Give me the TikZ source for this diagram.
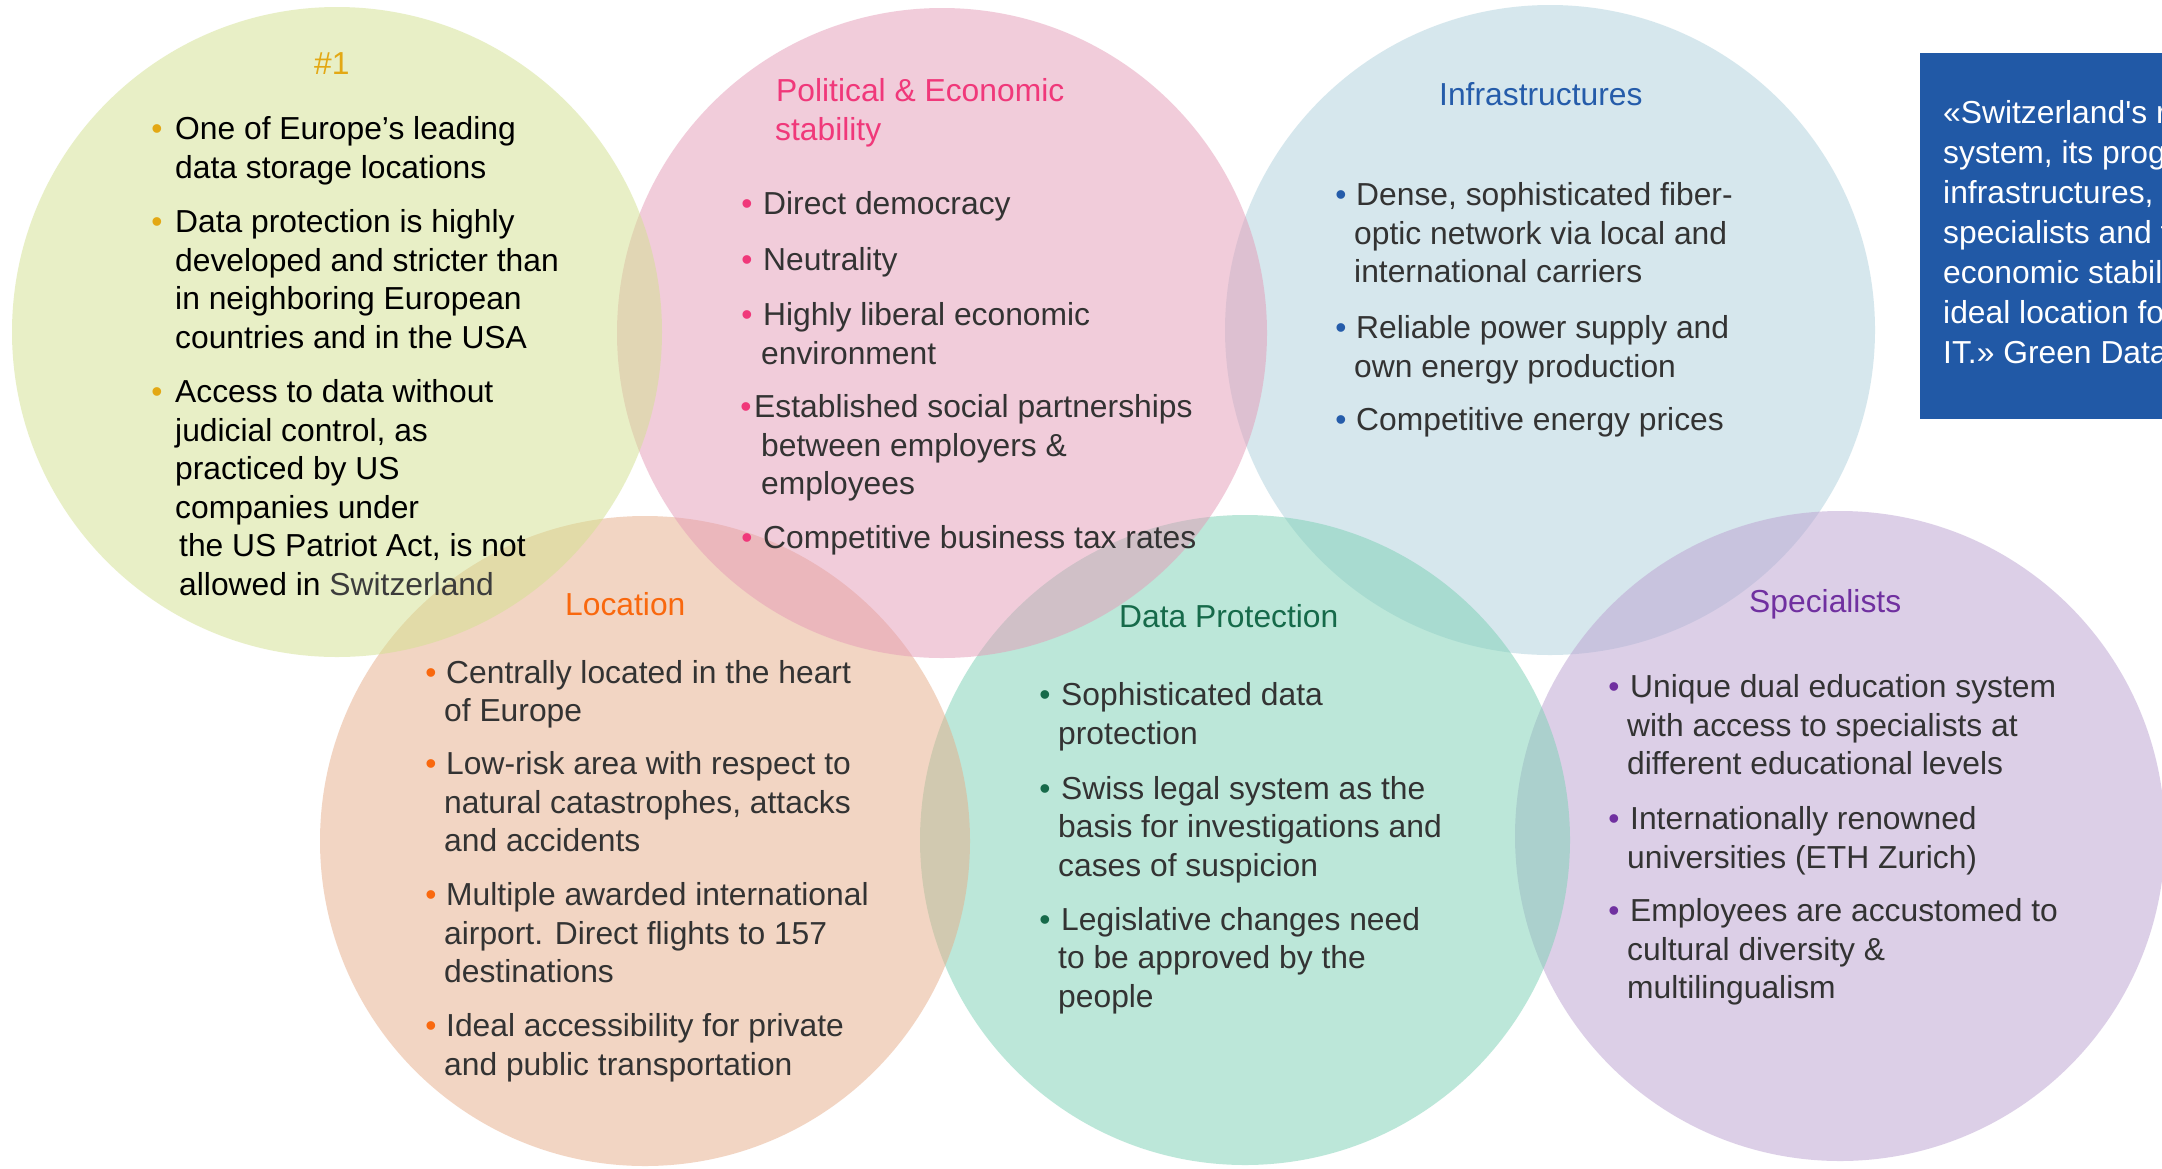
\documentclass[tikz,border=0pt]{standalone}
\usepackage{fontspec}
\setmainfont{Liberation Sans}
\newfontfamily\boxfont{Liberation Sans}[Ligatures=TeXOff]
\definecolor{cy}{RGB}{211,225,143}
\definecolor{cp}{RGB}{229,155,183}
\definecolor{cb}{RGB}{175,209,221}
\definecolor{co}{RGB}{231,173,137}
\definecolor{cg}{RGB}{123,209,181}
\definecolor{cu}{RGB}{187,161,209}
\definecolor{hy}{RGB}{227,168,20}
\definecolor{hp}{RGB}{240,56,122}
\definecolor{hb}{RGB}{37,92,170}
\definecolor{ho}{RGB}{249,104,14}
\definecolor{hg}{RGB}{22,106,74}
\definecolor{hu}{RGB}{112,48,160}
\definecolor{bodytxt}{RGB}{51,51,51}
\definecolor{swgray}{RGB}{60,60,60}
\definecolor{boxblue}{RGB}{33,89,166}
\tikzset{
  bubble/.style={circle, minimum size=650pt, inner sep=0pt, draw=none, fill=#1, fill opacity=0.5},
  txt/.style={anchor=base west, inner sep=0pt, font=\fontsize{31.8}{38.5}\selectfont, text=bodytxt},
  head/.style={txt, text=#1},
  bul/.style={anchor=base, inner sep=0pt, font=\fontsize{31.8}{38.5}\selectfont, text=#1},
  boxtxt/.style={anchor=base west, inner sep=0pt, font=\boxfont\fontsize{31.8}{40}\selectfont, text=white}
}
\newcommand\blk[5]{%
  \foreach \t [count=\i] in {#5} {\node[txt, text=#4] (#1\i) at (#2,{#3+(\i-1)*38.5}) {\t};}}
\begin{document}
\begin{tikzpicture}[x=1pt,y=-1pt]
\useasboundingbox (0,0) rectangle (2162,1168);
\fill[white] (0,0) rectangle (2162,1168);
% circles (drawing order follows overlaps)
\node[bubble=cb] (cInf) at (1550,330) {};
\node[bubble=cu] (cSpe) at (1840,836) {};
\node[bubble=cg] (cDat) at (1245,840) {};
\node[bubble=co] (cLoc) at (645,841) {};
\node[bubble=cp] (cPol) at (942,333) {};
\node[bubble=cy] (cOne) at (337,332) {};
% quote box
\fill[boxblue] (1920,53) rectangle (2170,419);
\node[boxtxt] (q1) at (1943,123) {«Switzerland's r};
\node[boxtxt] (q2) at (1943,163) {system, its prog};
\node[boxtxt] (q3) at (1943,203) {infrastructures,};
\node[boxtxt] (q4) at (1943,243) {specialists and t};
\node[boxtxt] (q5) at (1943,283) {economic stabil};
\node[boxtxt] (q6) at (1943,323) {ideal location fo};
\node[boxtxt] (q7) at (1943,363) {IT.» Green Data};
\begin{scope}[shift={(0,2.5)}]
% #1
\node[head=hy] (hOne) at (314,72) {\#1};
\node[bul=hy] (bOne1) at (157,137) {•};
\node[bul=hy] (bOne2) at (157,230) {•};
\node[bul=hy] (bOne3) at (157,400) {•};
\blk{yA}{175}{137}{black}{{One of Europe’s leading},{data storage locations}}
\blk{yB}{175}{230}{black}{{Data protection is highly},{developed and stricter than},{in neighboring European},{countries and in the USA}}
\blk{yC}{175}{400}{black}{{Access to data without},{judicial control, as},{practiced by US},{companies under}}
\node[txt, text=black] (yD1) at (179,554) {the US Patriot Act, is not};
\node[txt, text=black] (yD2) at (179,592.5) {allowed in \textcolor{swgray}{Switzerland}};
% Political
\node[head=hp] (hPol1) at (776,99) {Political \& Economic};
\node[head=hp] (hPol2) at (775,137.5) {stability};
\node[bul=hp] (bPol1) at (747,212) {•};
\node[bul=hp] (bPol2) at (747,268) {•};
\node[bul=hp] (bPol3) at (747,323) {•};
\node[bul=hp] (bPol4) at (746,415) {•};
\node[bul=hp] (bPol5) at (747,546) {•};
\node[txt] (pA1) at (763,212) {Direct democracy};
\node[txt] (pB1) at (763,268) {Neutrality};
\node[txt] (pC1) at (763,323) {Highly liberal economic};
\node[txt] (pC2) at (761,361.5) {environment};
\node[txt] (pD1) at (754,415) {Established social partnerships};
\node[txt] (pD2) at (761,453.5) {between employers \&};
\node[txt] (pD3) at (761,492) {employees};
\node[txt] (pE1) at (763,546) {Competitive business tax rates};
% Infrastructures
\node[head=hb] (hInf) at (1439,103) {Infrastructures};
\node[bul=hb] (bInf1) at (1341,203) {•};
\node[bul=hb] (bInf2) at (1341,336) {•};
\node[bul=hb] (bInf3) at (1341,428) {•};
\node[txt] (iA1) at (1356,203) {Dense, sophisticated fiber-};
\blk{iA}{1354}{241.5}{bodytxt}{{optic network via local and},{international carriers}}
\node[txt] (iB1) at (1356,336) {Reliable power supply and};
\node[txt] (iB2) at (1354,374.5) {own energy production};
\node[txt] (iC1) at (1356,428) {Competitive energy prices};
% Location
\node[head=ho] (hLoc) at (565,613) {Location};
\node[bul=ho] (bLoc1) at (431,680.5) {•};
\node[bul=ho] (bLoc2) at (431,772) {•};
\node[bul=ho] (bLoc3) at (431,903) {•};
\node[bul=ho] (bLoc4) at (431,1034) {•};
\node[txt] (lA1) at (446,680.5) {Centrally located in the heart};
\node[txt] (lA2) at (444,719) {of Europe};
\node[txt] (lB1) at (446,772) {Low-risk area with respect to};
\blk{lB}{444}{810.5}{bodytxt}{{natural catastrophes, attacks},{and accidents}}
\node[txt] (lC1) at (446,903) {Multiple awarded international};
\blk{lC}{444}{941.5}{bodytxt}{{airport. Direct flights to 157},{destinations}}
\node[txt] (lD1) at (446,1034) {Ideal accessibility for private};
\node[txt] (lD2) at (444,1072.5) {and public transportation};
% Data Protection
\node[head=hg] (hDat) at (1119,625) {Data Protection};
\node[bul=hg] (bDat1) at (1045,703) {•};
\node[bul=hg] (bDat2) at (1045,796.5) {•};
\node[bul=hg] (bDat3) at (1045,927.5) {•};
\node[txt] (dA1) at (1061,703) {Sophisticated data};
\node[txt] (dA2) at (1058,741.5) {protection};
\node[txt] (dB1) at (1061,796.5) {Swiss legal system as the};
\blk{dB}{1058}{835}{bodytxt}{{basis for investigations and},{cases of suspicion}}
\node[txt] (dC1) at (1061,927.5) {Legislative changes need};
\blk{dC}{1058}{966}{bodytxt}{{to be approved by the},{people}}
% Specialists
\node[head=hu] (hSpe) at (1749,610) {Specialists};
\node[bul=hu] (bSpe1) at (1614,695) {•};
\node[bul=hu] (bSpe2) at (1614,827) {•};
\node[bul=hu] (bSpe3) at (1614,919) {•};
\node[txt] (sA1) at (1630,695) {Unique dual education system};
\blk{sA}{1627}{733.5}{bodytxt}{{with access to specialists at},{different educational levels}}
\node[txt] (sB1) at (1630,827) {Internationally renowned};
\node[txt] (sB2) at (1627,865.5) {universities (ETH Zurich)};
\node[txt] (sC1) at (1630,919) {Employees are accustomed to};
\blk{sC}{1627}{957.5}{bodytxt}{{cultural diversity \&},{multilingualism}}
\end{scope}
\end{tikzpicture}
\end{document}
